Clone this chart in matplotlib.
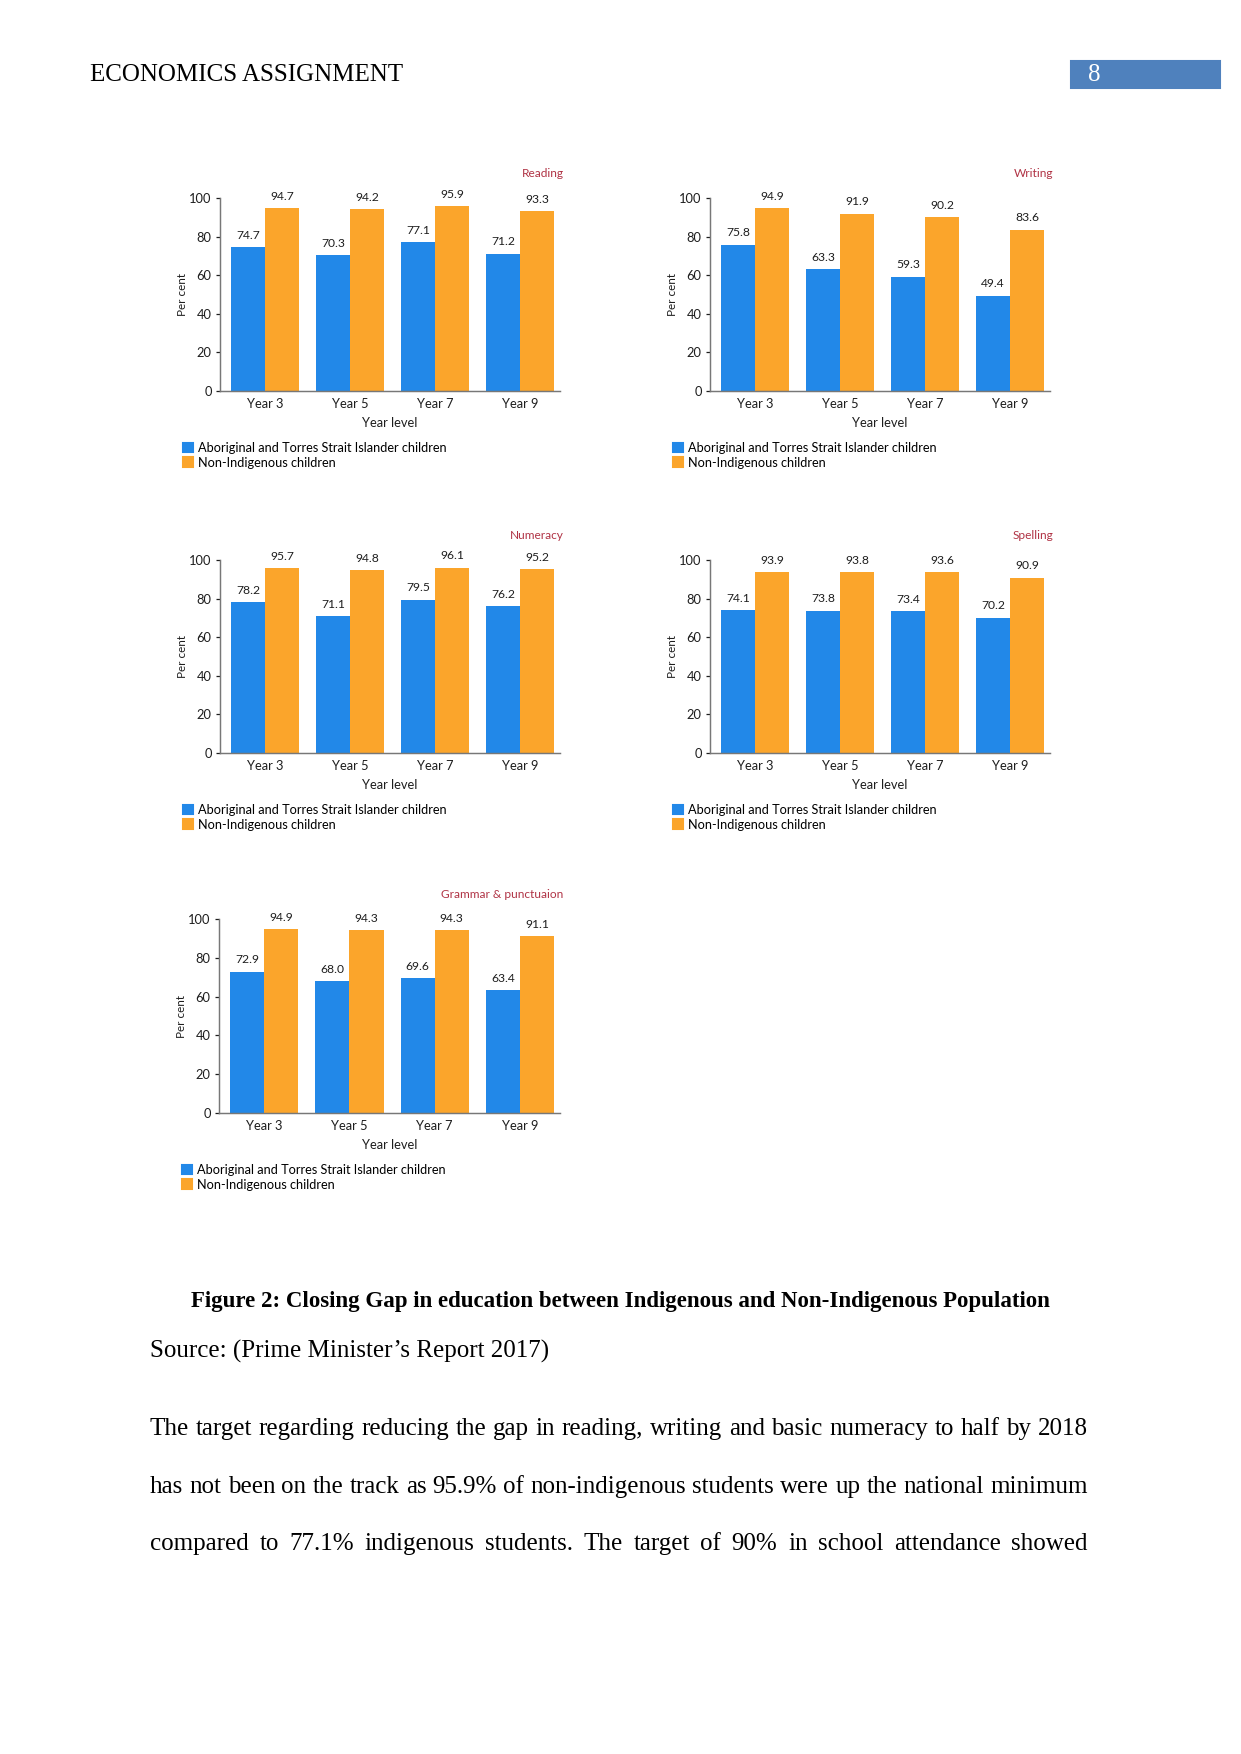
import matplotlib
matplotlib.use('Agg')
import matplotlib.pyplot as plt
from matplotlib.patches import Patch, Rectangle
import numpy as np

# data
years = ['Year 3', 'Year 5', 'Year 7', 'Year 9']
series_names = ['Aboriginal and Torres Strait Islander children', 'Non-Indigenous children']

reading_indig = [74.7, 70.3, 77.1, 71.2]
reading_non = [94.7, 94.2, 95.9, 93.3]
writing_indig = [75.8, 63.3, 59.3, 49.4]
writing_non = [94.9, 91.9, 90.2, 83.6]
numeracy_indig = [78.2, 71.1, 79.5, 76.2]
numeracy_non = [95.7, 94.8, 96.1, 95.2]
spelling_indig = [74.1, 73.8, 73.4, 70.2]
spelling_non = [93.9, 93.8, 93.6, 90.9]
grammar_indig = [72.9, 68.0, 69.6, 63.4]
grammar_non = [94.9, 94.3, 94.3, 91.1]

yticks = [0, 20, 40, 60, 80, 100]

caption = 'Figure 2: Closing Gap in education between Indigenous and Non-Indigenous Population'
source = 'Source: (Prime Minister\u2019s Report 2017)'
body_lines = [
    'The target regarding reducing the gap in reading, writing and basic numeracy to half by 2018',
    'has not been on the track as 95.9% of non-indigenous students were up the national minimum',
    'compared to 77.1% indigenous students. The target of 90% in school attendance showed',
]

BLUE = '#2288e8'
ORANGE = '#fba52b'
W, H = 1241, 1754
chart_font = 'Lato'
doc_font = 'Liberation Serif'
TXT = '#1e1e1e'

fig = plt.figure(figsize=(W / 150, H / 150), dpi=150)


def add_px_axes(l, t, r, b):
    return fig.add_axes([l / W, 1 - b / H, (r - l) / W, (b - t) / H])


def bar_panel(box, title, indig, non):
    ax = add_px_axes(*box)
    x = np.arange(len(years))
    b1 = ax.bar(x - 0.2, indig, 0.4, color=BLUE)
    b2 = ax.bar(x + 0.2, non, 0.4, color=ORANGE)
    for bars, vals in ((b1, indig), (b2, non)):
        for rect, v in zip(bars, vals):
            ax.annotate(f'{v:.1f}', (rect.get_x() + rect.get_width() / 2, v),
                        xytext=(0, 3), textcoords='offset points',
                        ha='center', va='bottom', fontsize=5.8,
                        family=chart_font, color=TXT, annotation_clip=False)
    ax.set_xlim(-0.53, 3.47)
    ax.set_ylim(0, 100)
    ax.set_yticks(yticks)
    ax.set_xticks(x)
    ax.set_xticklabels(years, family=chart_font, fontsize=6.2)
    ax.tick_params(axis='x', length=0, pad=3.5, colors=TXT)
    ax.tick_params(axis='y', length=2, width=0.6, pad=2, labelsize=6.2,
                   colors=TXT, direction='out')
    for lab in ax.get_yticklabels():
        lab.set_family(chart_font)
    for s in ('top', 'right'):
        ax.spines[s].set_visible(False)
    for s in ('left', 'bottom'):
        ax.spines[s].set_color('#777777')
        ax.spines[s].set_linewidth(0.7)
    ax.set_xlabel('Year level', family=chart_font, fontsize=6.2, color=TXT, labelpad=3)
    ax.set_ylabel('Per cent', family=chart_font, fontsize=5.6, color=TXT, labelpad=0.5)
    ax.text(1.01, 1.125, title, transform=ax.transAxes, ha='right', va='center',
            fontsize=5.7, family=chart_font, color='#b03345')
    l, t, r, b = box
    handles = [Patch(color=BLUE), Patch(color=ORANGE)]
    ax.legend(handles, series_names, loc='upper left',
              bbox_to_anchor=((l - 37) / W, 1 - (b + 51) / H),
              bbox_transform=fig.transFigure, frameon=False,
              prop={'family': chart_font, 'size': 6.1},
              handlelength=0.75, handleheight=0.75, handletextpad=0.45,
              labelspacing=0.2, borderpad=0, borderaxespad=0)
    return ax


bar_panel((220, 198, 560, 391), 'Reading', reading_indig, reading_non)
bar_panel((710, 198, 1050, 391), 'Writing', writing_indig, writing_non)
bar_panel((220, 560, 560, 753), 'Numeracy', numeracy_indig, numeracy_non)
bar_panel((710, 560, 1050, 753), 'Spelling', spelling_indig, spelling_non)
bar_panel((219, 919, 560, 1113), 'Grammar & punctuaion', grammar_indig, grammar_non)

# header
fig.text(90 / W, 1 - 75 / H, 'ECONOMICS ASSIGNMENT', family=doc_font, fontsize=12,
         ha='left', va='center')
fig.patches.append(Rectangle((1071 / W, 1 - 88 / H), 149 / W, 27 / H,
                             transform=fig.transFigure, color='#4f81bd'))
fig.text(1088 / W, 1 - 75 / H, '8', family=doc_font, fontsize=12, color='white',
         ha='left', va='center')

# caption and text
fig.text(620 / W, 1 - 1301 / H, caption, family=doc_font, fontsize=11,
         weight='bold', ha='center', va='center')
fig.text(150 / W, 1 - 1351 / H, source, family=doc_font, fontsize=12,
         ha='left', va='center')

renderer = fig.canvas.get_renderer()
L, R = 150, 1088
for line, yc in zip(body_lines, [1429, 1487, 1544]):
    words = line.split()
    objs = [fig.text(0, 1 - yc / H, w, family=doc_font, fontsize=12,
                     ha='left', va='center') for w in words]
    widths = [o.get_window_extent(renderer).width for o in objs]
    gap = (R - L - sum(widths)) / (len(words) - 1)
    xpos = L
    for o, wd in zip(objs, widths):
        o.set_x(xpos / W)
        xpos += wd + gap

fig.savefig('out.png', dpi=150)
